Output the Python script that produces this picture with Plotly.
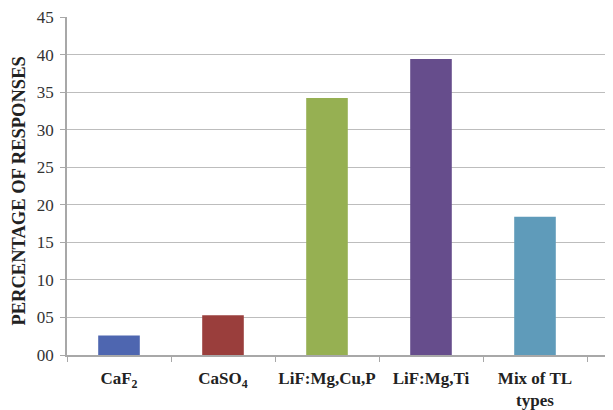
import plotly.graph_objects as go

categories = ["CaF<sub>2</sub>", "CaSO<sub>4</sub>", "LiF:Mg,Cu,P", "LiF:Mg,Ti", "Mix of TL<br>types"]
values = [2.6, 5.3, 34.2, 39.4, 18.4]
colors = ["#4E66B0", "#9A3E3C", "#96B052", "#664D8C", "#5F9BBA"]
y_tickvals = [0, 5, 10, 15, 20, 25, 30, 35, 40, 45]
y_ticktext = ["00", "05", "10", "15", "20", "25", "30", "35", "40", "45"]
y_title = "PERCENTAGE OF RESPONSES"

fig = go.Figure(go.Bar(x=categories, y=values, marker=dict(color=colors, line=dict(width=0)), width=0.4))

fig.update_layout(
    width=605, height=402,
    margin=dict(l=59, r=0, t=9, b=55),
    plot_bgcolor="white", paper_bgcolor="white",
    font=dict(family="Liberation Serif", color="#222222"),
    showlegend=False,
)
fig.update_xaxes(
    range=[-0.5, 4.75], automargin=False, tickangle=0,
    showline=True, linecolor="#A8A8A8", linewidth=1.5,
    ticks="outside", tickson="boundaries", ticklen=5, tickcolor="#A8A8A8",
    ticklabelstandoff=7,
    tickfont=dict(size=17, family="Liberation Serif", color="#222222", weight="bold"),
    showgrid=False,
)
fig.update_yaxes(
    range=[0, 45], automargin=False,
    tickvals=y_tickvals, ticktext=y_ticktext, ticklabeloverflow="allow",
    showline=True, linecolor="#A8A8A8", linewidth=1.5,
    ticks="outside", ticklen=5, tickcolor="#A8A8A8", ticklabelstandoff=3,
    showgrid=True, gridcolor="#BDBDBD", gridwidth=1.2,
    tickfont=dict(size=17, family="Liberation Serif", color="#333333"),
    zeroline=False,
)
fig.add_annotation(
    text=y_title, textangle=-90, showarrow=False,
    xref="paper", yref="paper", x=-0.087, y=0.485, xanchor="center", yanchor="middle",
    font=dict(size=18.5, family="Liberation Serif", color="#222222", weight="bold"),
)

fig.write_html("out.html")
